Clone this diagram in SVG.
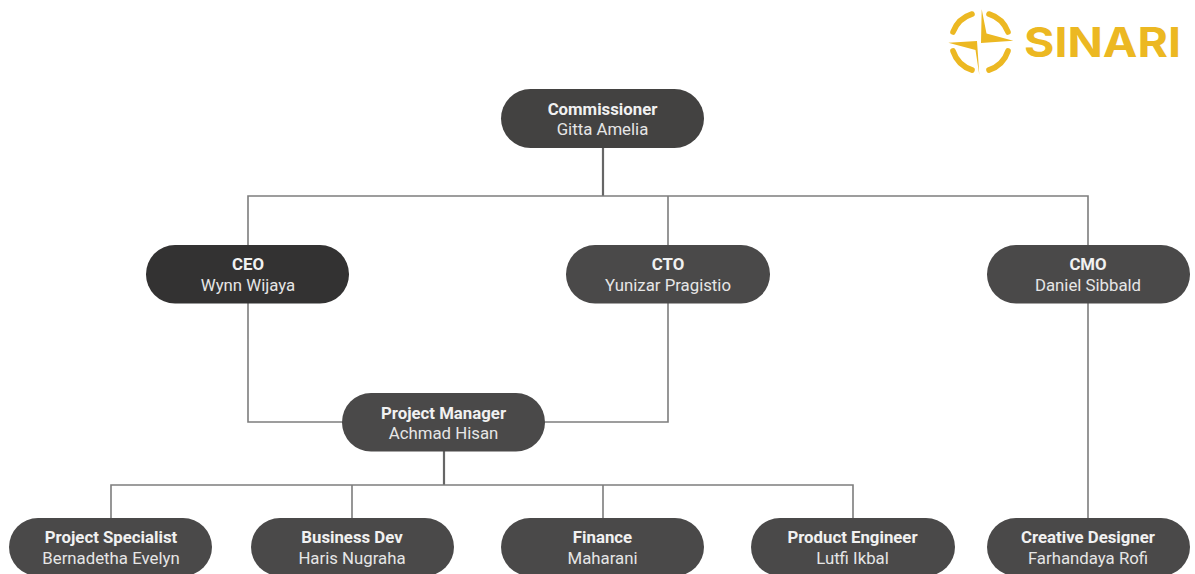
<svg xmlns="http://www.w3.org/2000/svg" width="1195" height="574" viewBox="0 0 1195 574">
<style>
.n{fill:#4a4949}
.b{font:700 16.800px Roboto,"Liberation Sans",sans-serif;fill:#f1f1f1;text-anchor:middle}
.r{font:400 16.800px Roboto,"Liberation Sans",sans-serif;fill:#e6e6e6;text-anchor:middle}
.c{fill:none;stroke:#7d7d7d;stroke-width:1.6}
.t{fill:none;stroke:#666;stroke-width:2.2}
.a{fill:none;stroke:#ecb822;stroke-width:5.600;stroke-linecap:round}
</style>
<rect width="1195" height="574" fill="#fff"/>
<g id="logo">
<path class="a" d="M953 32A30 30 0 0 1 972 14M989 14A30 30 0 0 1 1008 32M1008 51A30 30 0 0 1 989 70M953 51A30 30 0 0 0 972 70"/>
<path fill="#ecb822" d="M981.700 9.300L986.500 33.500L1013.300 40.700L981 43ZM948.300 42.700L977 41L979.300 75L975.500 50Z"/>
<text x="1024" y="57" font-family="Inter,'Open Sans',sans-serif" font-weight="700" font-size="41.500" fill="#ecb822" textLength="157" lengthAdjust="spacingAndGlyphs">SINARI</text>
</g>
<g id="connectors">
<path class="t" d="M603 148V196M444 451V485"/>
<path class="c" d="M248 245V196H1088V245M668 196V245M248 303V422H342M668 303V422H545M1088 303V518M111 518V485H853V518M352 485V518M603 485V518"/>
</g>
<g id="commissioner"><rect class="n" x="501" y="89" width="203" height="59" rx="29.500" style="fill:#434241"/><text class="b" x="602.500" y="115">Commissioner</text><text class="r" x="602.500" y="135">Gitta Amelia</text></g>
<g id="ceo"><rect class="n" x="146" y="245" width="203" height="58.500" rx="29" style="fill:#333232"/><text class="b" x="248" y="270">CEO</text><text class="r" x="248" y="290.500">Wynn Wijaya</text></g>
<g id="cto"><rect class="n" x="566" y="245" width="204" height="58.500" rx="29"/><text class="b" x="668" y="270">CTO</text><text class="r" x="668" y="290.500">Yunizar Pragistio</text></g>
<g id="cmo"><rect class="n" x="987" y="245" width="203" height="58.500" rx="29"/><text class="b" x="1088" y="270">CMO</text><text class="r" x="1088" y="290.500">Daniel Sibbald</text></g>
<g id="pm"><rect class="n" x="342" y="393" width="203" height="58.500" rx="29"/><text class="b" x="443.500" y="418.500">Project Manager</text><text class="r" x="443.500" y="439">Achmad Hisan</text></g>
<g id="specialist"><rect class="n" x="9" y="518" width="203" height="58" rx="29"/><text class="b" x="111" y="543">Project Specialist</text><text class="r" x="111" y="563.500">Bernadetha Evelyn</text></g>
<g id="bizdev"><rect class="n" x="251" y="518" width="203" height="58" rx="29"/><text class="b" x="352" y="543">Business Dev</text><text class="r" x="352" y="563.500">Haris Nugraha</text></g>
<g id="finance"><rect class="n" x="501" y="518" width="203" height="58" rx="29"/><text class="b" x="602.500" y="543">Finance</text><text class="r" x="602.500" y="563.500">Maharani</text></g>
<g id="engineer"><rect class="n" x="751" y="518" width="204" height="58" rx="29"/><text class="b" x="852.500" y="543">Product Engineer</text><text class="r" x="852.500" y="563.500">Lutfi Ikbal</text></g>
<g id="designer"><rect class="n" x="987" y="518" width="203" height="58" rx="29"/><text class="b" x="1088" y="543">Creative Designer</text><text class="r" x="1088" y="563.500">Farhandaya Rofi</text></g>
</svg>
